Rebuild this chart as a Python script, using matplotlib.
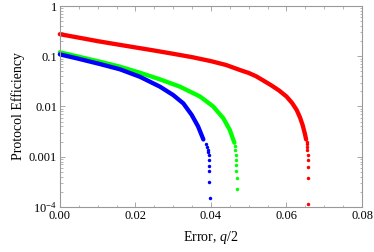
import matplotlib
matplotlib.use("Agg")
import matplotlib.pyplot as plt
from matplotlib.ticker import FixedLocator, FixedFormatter, MultipleLocator

plt.rcParams["font.family"] = "Liberation Serif"
plt.rcParams["mathtext.fontset"] = "custom"
plt.rcParams["mathtext.rm"] = "Liberation Serif"
plt.rcParams["mathtext.it"] = "Liberation Serif:italic"

# smooth parts of the curves
red_x = [0, 0.005, 0.010, 0.015, 0.020, 0.025, 0.030, 0.035, 0.040, 0.044,
         0.048, 0.050, 0.052, 0.054, 0.056, 0.058, 0.060, 0.0615, 0.0627,
         0.0636, 0.0643, 0.0649, 0.0652]
red_y = [0.275, 0.235, 0.200, 0.173, 0.150, 0.130, 0.112, 0.096, 0.080, 0.067,
         0.0522, 0.0465, 0.0398, 0.0324, 0.0263, 0.0209, 0.0158, 0.0117, 0.0085,
         0.0060, 0.0042, 0.0028, 0.0022]

green_x = [0, 0.005, 0.0106, 0.0159, 0.0212, 0.0265, 0.0318, 0.0371, 0.0406,
           0.0433, 0.0450, 0.0462]
green_y = [0.12, 0.098, 0.078, 0.062, 0.047, 0.0347, 0.0248, 0.0158, 0.0100,
           0.0058, 0.0034, 0.0019]

blue_x = [0, 0.005, 0.0106, 0.0159, 0.0212, 0.0265, 0.0300, 0.0327, 0.0349,
          0.0366, 0.0380]
blue_y = [0.109, 0.089, 0.070, 0.055, 0.039, 0.0248, 0.0169, 0.0115, 0.0068,
          0.0040, 0.0022]

# separate points where the curves plunge
red_tail_x = [0.0653, 0.0654, 0.0655, 0.0655, 0.0656, 0.0656, 0.0657, 0.0657, 0.0658]
red_tail_y = [0.00195, 0.00175, 0.00158, 0.00136, 0.00108, 0.00086, 0.00062, 0.00037, 0.000115]

green_tail_x = [0.0464, 0.0465, 0.0466, 0.0466, 0.0467, 0.0467, 0.0468, 0.0469]
green_tail_y = [0.0016, 0.00136, 0.00108, 0.00086, 0.00069, 0.00052, 0.00037, 0.000225]

blue_tail_x = [0.0386, 0.0390, 0.0392, 0.0393, 0.0394, 0.0394, 0.0395, 0.0395,
               0.0396, 0.0397]
blue_tail_y = [0.0018, 0.00158, 0.00136, 0.00122, 0.00108, 0.00086, 0.00066,
               0.00052, 0.00032, 0.000149]

y_ticks = [1, 0.1, 0.01, 0.001, 0.0001]
y_labels = ["1", "0.1", "0.01", "0.001", "$10^{-4}$"]
x_ticks = [0, 0.02, 0.04, 0.06, 0.08]
x_labels = ["0.00", "0.02", "0.04", "0.06", "0.08"]

fig = plt.figure(figsize=(3.74, 2.52), dpi=100)
ax = fig.add_axes([0.160, 0.179, 0.808, 0.797])

for xs, ys, tx, ty, c in [(red_x, red_y, red_tail_x, red_tail_y, "#ff0000"),
                          (green_x, green_y, green_tail_x, green_tail_y, "#00ff00"),
                          (blue_x, blue_y, blue_tail_x, blue_tail_y, "#0000ff")]:
    ax.plot(xs, ys, color=c, lw=3.1, solid_capstyle="round", clip_on=False)
    ax.plot(tx, ty, "o", color=c, ms=2.5, mew=0)

ax.set_yscale("log")
ax.set_xlim(0, 0.08)
ax.set_ylim(1e-4, 1)
ax.xaxis.set_major_locator(FixedLocator(x_ticks))
ax.xaxis.set_major_formatter(FixedFormatter(x_labels))
ax.xaxis.set_minor_locator(MultipleLocator(0.005))
ax.yaxis.set_major_locator(FixedLocator(y_ticks))
ax.yaxis.set_major_formatter(FixedFormatter(y_labels))

frame = "#999999"
for s in ax.spines.values():
    s.set_color(frame)
    s.set_linewidth(0.8)
ax.tick_params(which="both", direction="in", top=True, right=True, color=frame,
               labelsize=9, labelcolor="black", pad=2)
ax.tick_params(which="major", length=3.5, width=0.6)
ax.tick_params(which="minor", length=1.8, width=0.5)

ax.set_xlabel("Error, $\\mathit{q/2}$", fontsize=10, labelpad=5)
ax.set_ylabel("Protocol Efficiency", fontsize=10, labelpad=3)

fig.savefig("out.png", dpi=100)
